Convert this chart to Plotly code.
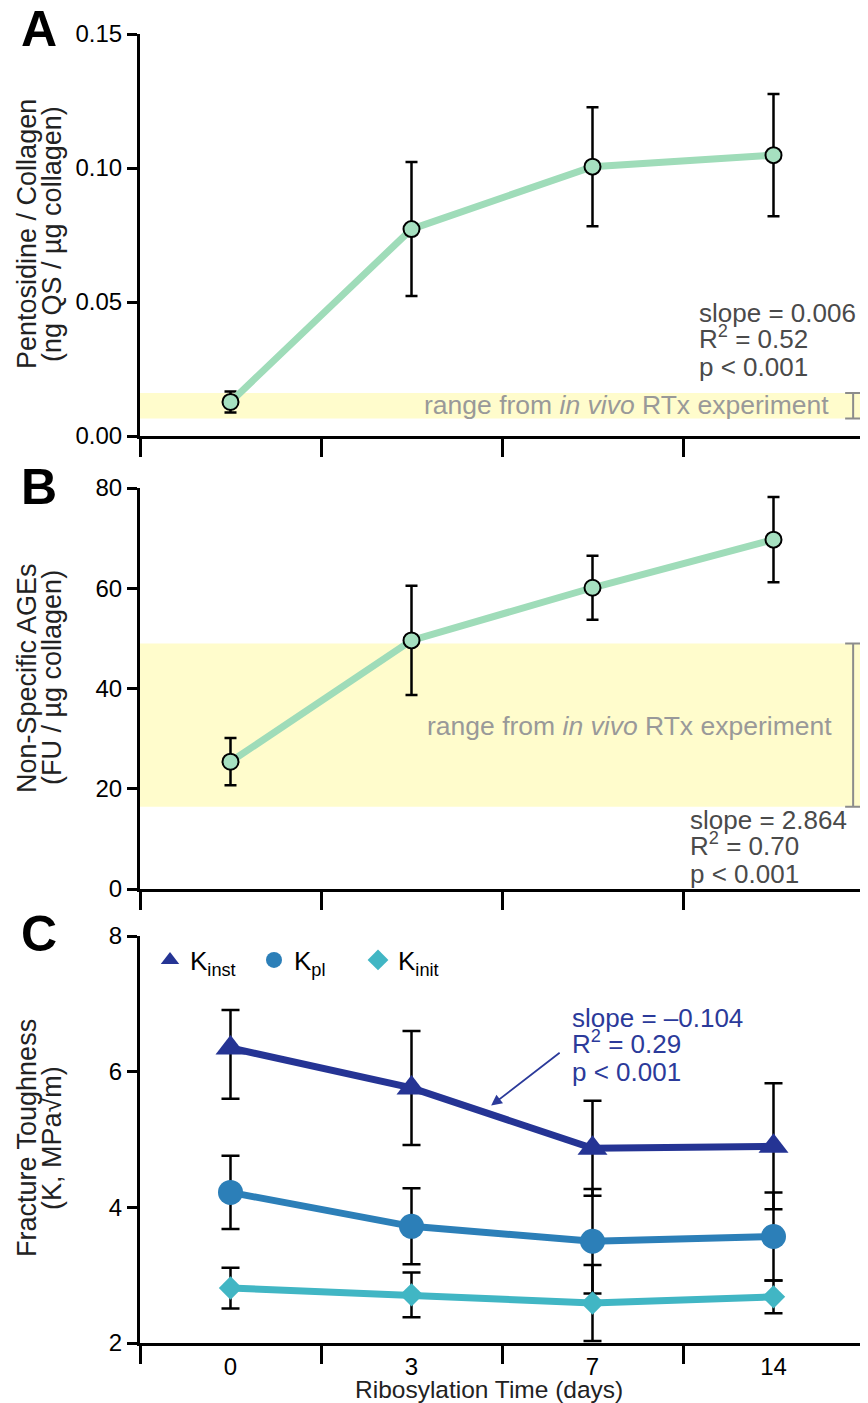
import plotly.graph_objects as go

# ---------------- data ----------------
days = ["0", "3", "7", "14"]
xpos = [0, 1, 2, 3]

pentosidine = [0.0127, 0.0772, 0.1005, 0.1048]
pentosidine_err = [0.0039, 0.0250, 0.0222, 0.0228]
pent_band = [0.0065, 0.0160]

ages = [25.4, 49.6, 60.1, 69.7]
ages_err = [4.7, 10.9, 6.4, 8.5]
ages_band = [16.4, 49.0]

k_inst = [6.35, 5.76, 4.87, 4.90]
k_inst_err_up = [0.56, 0.84, 0.70, 0.93]
k_inst_err_dn = [0.75, 0.84, 0.70, 0.93]
k_pl = [4.22, 3.72, 3.50, 3.57]
k_pl_err = [0.54, 0.56, 0.77, 0.65]
k_init = [2.81, 2.71, 2.59, 2.68]
k_init_err = [0.30, 0.33, 0.56, 0.24]

FONT = "Liberation Sans, Arial, Helvetica, sans-serif"
GREEN_LINE = "#9fdcb9"
GREEN_MARK = "#a6e0c0"
YELLOW = "#fffccc"
GRAY_TXT = "#999999"
DARK_TXT = "#4a4a4a"
NAVY = "#253494"
MID = "#2c7fb8"
TEAL = "#41b6c4"
NAVY_TXT = "#2b3a9a"

# the page body has an 8px margin, so the figure is drawn 8px in from the top-left
OFF = 8
W, H = 868 - OFF, 1403 - OFF
PL, PR, PT, PB = 140, 864, 34, 1343          # plot area in page pixels
ML, MR, MT, MB = PL - OFF, 868 - PR, PT - OFF, 1403 - PB


def px_x(px):
    return (px - PL) / (PR - PL)


def px_y(py):
    return (PB - py) / (PB - PT)


fig = go.Figure()

# ---- Panel A ----
fig.add_trace(go.Scatter(
    x=xpos, y=pentosidine, xaxis="x", yaxis="y", mode="lines+markers",
    line=dict(color=GREEN_LINE, width=7),
    marker=dict(size=16, color=GREEN_MARK, line=dict(color="black", width=2)),
    error_y=dict(type="data", array=pentosidine_err, color="black", thickness=2.5, width=6),
    showlegend=False))
fig.add_trace(go.Scatter(
    x=[3.44], y=[(pent_band[0] + pent_band[1]) / 2], xaxis="x", yaxis="y", mode="markers",
    marker=dict(size=1, color="rgba(0,0,0,0)"),
    error_y=dict(type="data", array=[(pent_band[1] - pent_band[0]) / 2], color="#8c8c8c",
                 thickness=2, width=8),
    showlegend=False, hoverinfo="skip"))

# ---- Panel B ----
fig.add_trace(go.Scatter(
    x=xpos, y=ages, xaxis="x2", yaxis="y2", mode="lines+markers",
    line=dict(color=GREEN_LINE, width=7),
    marker=dict(size=16, color=GREEN_MARK, line=dict(color="black", width=2)),
    error_y=dict(type="data", array=ages_err, color="black", thickness=2.5, width=6),
    showlegend=False))
fig.add_trace(go.Scatter(
    x=[3.44], y=[(ages_band[0] + ages_band[1]) / 2], xaxis="x2", yaxis="y2", mode="markers",
    marker=dict(size=1, color="rgba(0,0,0,0)"),
    error_y=dict(type="data", array=[(ages_band[1] - ages_band[0]) / 2], color="#8c8c8c",
                 thickness=2, width=8),
    showlegend=False, hoverinfo="skip"))

# ---- Panel C ----
series = [
    ("K<sub>inst</sub>", k_inst, k_inst_err_up, k_inst_err_dn, NAVY, "triangle-up", 26),
    ("K<sub>pl</sub>", k_pl, k_pl_err, k_pl_err, MID, "circle", 25),
    ("K<sub>init</sub>", k_init, k_init_err, k_init_err, TEAL, "diamond", 18),
]
for name, vals, eu, ed, col, sym, sz in series:
    fig.add_trace(go.Scatter(
        x=xpos, y=vals, xaxis="x3", yaxis="y3", mode="lines+markers", name=name,
        line=dict(color=col, width=7),
        marker=dict(size=sz, color=col, symbol=sym, line=dict(width=0)),
        error_y=dict(type="data", symmetric=False, array=eu, arrayminus=ed, color="black",
                     thickness=2.5, width=9),
        showlegend=False))
for name, vals, eu, ed, col, sym, sz in series:
    fig.add_trace(go.Scatter(
        x=[None], y=[None], xaxis="x3", yaxis="y3", mode="markers", name=name,
        marker=dict(size=sz, color=col, symbol=sym, line=dict(width=0)),
        showlegend=True))

# ---------------- axes ----------------
TICKFONT = dict(family=FONT, size=24, color="black")
minor_x = dict(tickmode="array", tickvals=[-0.5, 0.5, 1.5, 2.5, 3.5], ticks="outside",
               ticklen=18, tickwidth=3, tickcolor="black", showgrid=False)


def xaxis_cfg(anchor, labels):
    return dict(anchor=anchor, domain=[0, 1], range=[-0.5, 3.5], showline=True, linewidth=3,
                linecolor="black", showgrid=False, zeroline=False,
                tickmode="array", tickvals=xpos, ticktext=days, ticks="",
                showticklabels=labels, minor=minor_x, tickfont=TICKFONT)


def yaxis_cfg(anchor, dom, rng, tv, fmt=None):
    d = dict(anchor=anchor, domain=dom, range=rng, showline=True, linewidth=3, linecolor="black",
             showgrid=False, zeroline=False, tickmode="array", tickvals=tv, ticks="outside",
             ticklen=10, tickwidth=3, tickcolor="black", tickfont=TICKFONT)
    if fmt:
        d["tickformat"] = fmt
    return d


fig.update_layout(
    width=W, height=H,
    margin=dict(l=ML, r=MR, t=MT, b=MB),
    paper_bgcolor="white", plot_bgcolor="white",
    font=dict(family=FONT, color="black"),
    xaxis=xaxis_cfg("y", False),
    yaxis=yaxis_cfg("x", [px_y(436), px_y(34)], [0, 0.15], [0, 0.05, 0.10, 0.15], ".2f"),
    xaxis2=xaxis_cfg("y2", False),
    yaxis2=yaxis_cfg("x2", [px_y(889), px_y(488)], [0, 80], [0, 20, 40, 60, 80]),
    xaxis3=xaxis_cfg("y3", True),
    yaxis3=yaxis_cfg("x3", [px_y(1343), px_y(936)], [2, 8], [2, 4, 6, 8]),
    legend=dict(orientation="h", x=px_x(150), y=px_y(960), xanchor="left", yanchor="middle",
                font=dict(family=FONT, size=26, color="black"), bgcolor="rgba(0,0,0,0)",
                entrywidth=59, entrywidthmode="pixels", itemsizing="trace",
                tracegroupgap=0),
)

# bands
fig.add_shape(type="rect", xref="x", yref="y", x0=-0.5, x1=3.5, y0=pent_band[0], y1=pent_band[1],
              fillcolor=YELLOW, line=dict(width=0), layer="below")
fig.add_shape(type="rect", xref="x2", yref="y2", x0=-0.5, x1=3.5, y0=ages_band[0], y1=ages_band[1],
              fillcolor=YELLOW, line=dict(width=0), layer="below")

ann = []


def txt(text, x, y, size, color, xanchor="left", angle=0, yanchor="middle"):
    ann.append(dict(text=text, xref="paper", yref="paper", x=px_x(x), y=px_y(y),
                    xanchor=xanchor, yanchor=yanchor, textangle=angle, showarrow=False,
                    font=dict(family=FONT, size=size, color=color)))


# panel letters
for letter, py in (("A", 29), ("B", 487), ("C", 934)):
    txt(f"<b>{letter}</b>", 39, py, 50, "black", xanchor="center")

# y titles (two lines each, tight leading)
for l1, l2, py in (("Pentosidine / Collagen", "(ng QS / µg collagen)", 234),
                   ("Non-Specific AGEs", "(FU / µg collagen)", 678),
                   ("Fracture Toughness", "(K, MPa√m)", 1138)):
    txt(l1, 27, py, 27, "#222222", xanchor="center", angle=-90)
    txt(l2, 52, py, 27, "#222222", xanchor="center", angle=-90)

# x title
txt("Ribosylation Time (days)", 489, 1389, 24.5, "#222222", xanchor="center")

# stats
for lines, x0, y0, col in (
        (["slope = 0.006", "R<sup>2</sup> = 0.52", "p < 0.001"], 697, 313, DARK_TXT),
        (["slope = 2.864", "R<sup>2</sup> = 0.70", "p < 0.001"], 688, 820, DARK_TXT),
        (["slope = –0.104", "R<sup>2</sup> = 0.29", "p < 0.001"], 570, 1018, NAVY_TXT)):
    for i, line in enumerate(lines):
        dy = -3 if "sup" in line else 0
        txt(line, x0, y0 + 27 * i + dy, 26, col)

# band labels
txt("range from <i>in vivo</i> RTx experiment", 831, 405, 26.5, GRAY_TXT, xanchor="right")
txt("range from <i>in vivo</i> RTx experiment", 834, 726, 26.5, GRAY_TXT, xanchor="right")

# arrow
ann.append(dict(text="", xref="x3", yref="y3", x=1.44, y=5.50, ax=70, ay=-54, showarrow=True,
                arrowhead=2, arrowsize=1.2, arrowwidth=1.8, arrowcolor=NAVY_TXT))
fig.update_layout(annotations=ann)

fig.write_html("out.html")
